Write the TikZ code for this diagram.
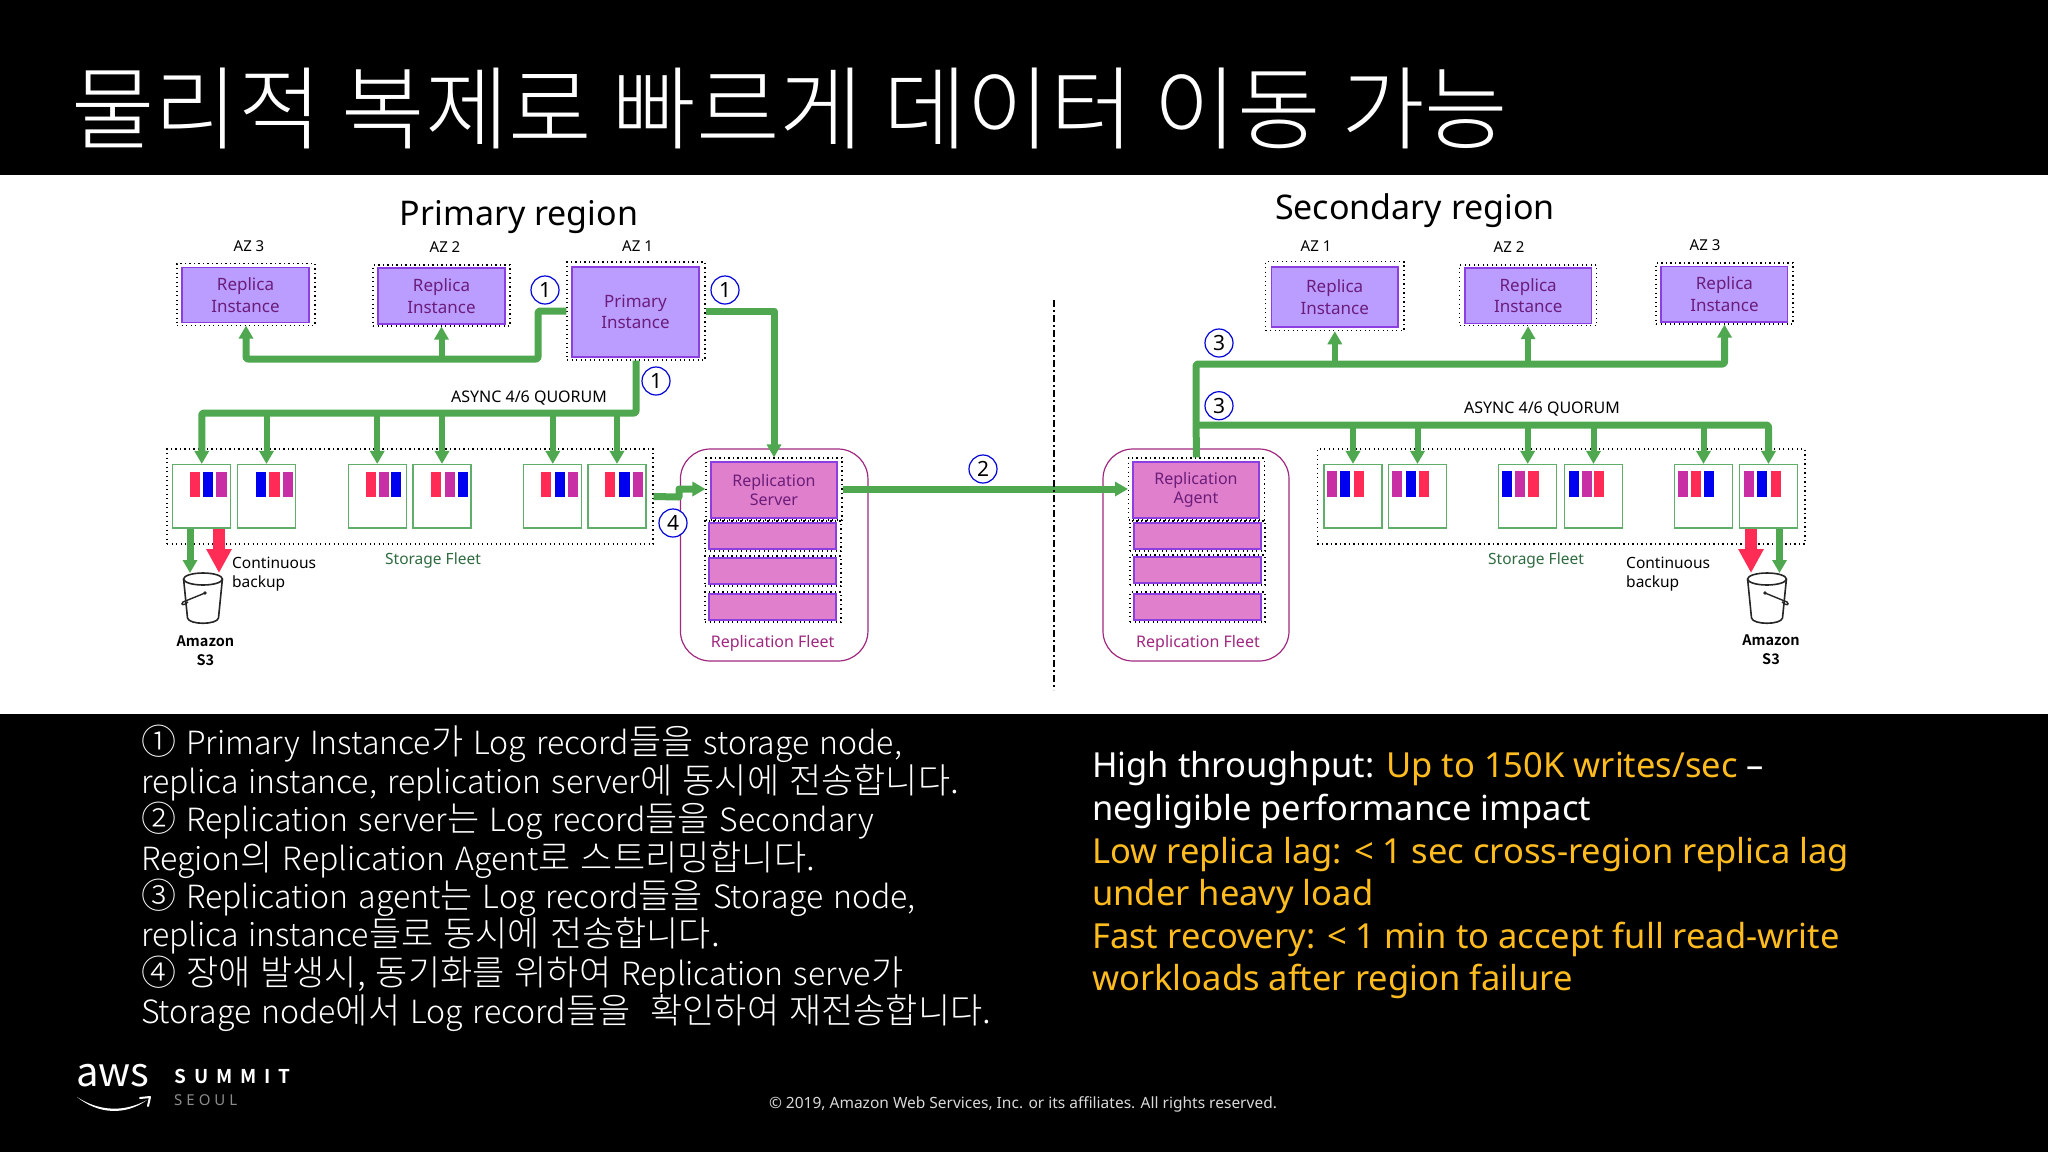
\documentclass[tikz,border=0pt]{standalone}
\usepackage{fontspec}
\usetikzlibrary{arrows.meta}
\setmainfont{Noto Sans}
\newfontfamily\kr{Noto Sans CJK KR}
\newfontfamily\krl{Noto Sans CJK KR Light}
\newfontfamily\krb{Noto Sans CJK KR Bold}
\definecolor{flowgreen}{HTML}{4FA84F}
\definecolor{hotred}{HTML}{FF2D55}
\definecolor{barB}{HTML}{0000F0}
\definecolor{barR}{HTML}{FF2A55}
\definecolor{barM}{HTML}{C92FA5}
\definecolor{lilac}{HTML}{BB9CFF}
\definecolor{edgepurple}{HTML}{8C3FE0}
\definecolor{pinkfill}{HTML}{E07FCB}
\definecolor{inktext}{HTML}{6B1D7A}
\definecolor{fleetline}{HTML}{A0287F}
\definecolor{boxgreen}{HTML}{5FAE6A}
\definecolor{darkgreen}{HTML}{2F6B40}
\definecolor{gold}{HTML}{FFBC1F}
\newcommand{\fs}[1]{\fontsize{#1}{#1}\selectfont}
\newcommand{\fsb}[2]{\fontsize{#1}{#2}\selectfont}
\newcommand{\K}[1]{{\fontsize{35}{38.45}\selectfont #1}}
\newcommand{\widesp}{\spaceskip=10pt\relax}
\tikzset{
  dotframe/.style={draw=black,line width=1.1pt,dash pattern=on 1.2pt off 3.3pt,inner sep=0pt,fill=none},
  instbox/.style={draw=edgepurple,line width=1.2pt,fill=lilac,inner sep=0pt,align=center,text=inktext,font=\fsb{17}{21.5}},
  repbox/.style={draw=edgepurple,line width=1.2pt,fill=pinkfill,inner sep=0pt,align=center,text=inktext,font=\fsb{16}{19.5}},
  storebox/.style={draw=boxgreen,line width=1.2pt,fill=white,inner sep=0pt,minimum width=58pt,minimum height=63.5pt},
  fleet/.style={draw=fleetline,line width=1.2pt,rounded corners=30pt,inner sep=0pt},
  flow/.style={draw=flowgreen,line width=7pt,line join=round,-{Triangle[width=14pt,length=13pt]}},
  flowthin/.style={draw=flowgreen,line width=6pt,line join=round,-{Triangle[width=14pt,length=13pt]}},
  redflow/.style={draw=hotred,line width=12pt,-{Triangle[width=24pt,length=24pt]}},
  num/.style={circle,draw=blue!85!black,line width=1.2pt,fill=white,minimum size=28pt,inner sep=0pt,font=\fs{21},text=black},
  lab/.style={inner sep=0pt,font=\fs{15.5}},
  azlab/.style={inner sep=0pt,font=\fs{15}},
  boldlab/.style={inner sep=0pt,font=\krb\fs{14.5}},
}
\begin{document}
\begin{tikzpicture}[x=1pt,y=-1pt]
\useasboundingbox (0,0) rectangle (2048,1152);
\fill[black] (0,0) rectangle (2048,1152);
\fill[white] (0,175) rectangle (2048,714);

% header
\node[anchor=west,inner sep=0pt,text=white] (title) at (71,108) {\krl\fs{90.8}물리적 복제로 빠르게 데이터 이동 가능};

% region titles
\node[inner sep=0pt,font=\fs{34}] (prim) at (519,217) {Primary region};
\node[inner sep=0pt,font=\fs{34}] (sec) at (1415,211) {Secondary region};
\node[azlab] (az3a) at (249,246) {AZ 3};
\node[azlab] (az2a) at (445,247) {AZ 2};
\node[azlab] (az1a) at (637.5,246.5) {AZ 1};
\node[azlab] (az1b) at (1316,246) {AZ 1};
\node[azlab] (az2b) at (1509,247) {AZ 2};
\node[azlab] (az3b) at (1705,245) {AZ 3};

% primary region instances
\node[dotframe,minimum width=138pt,minimum height=61.5pt] (r3d) at (246,294.3) {};
\node[instbox,minimum width=127pt,minimum height=55.4pt] (r3) at (245.5,295) {Replica\\Instance};
\node[dotframe,minimum width=137pt,minimum height=61pt] (r2d) at (441.5,295.5) {};
\node[instbox,minimum width=127pt,minimum height=56pt] (r2) at (441.5,296) {Replica\\Instance};
\node[dotframe,minimum width=138pt,minimum height=98pt] (pd) at (636,311) {};
\node[instbox,minimum width=127pt,minimum height=90pt] (pr) at (635.5,312) {Primary\\Instance};

% secondary region instances
\node[dotframe,minimum width=138.3pt,minimum height=69pt] (q1d) at (1334.8,296.2) {};
\node[instbox,minimum width=126.6pt,minimum height=60pt] (q1) at (1334.7,297) {Replica\\Instance};
\node[dotframe,minimum width=137.1pt,minimum height=60.7pt] (q2d) at (1528.1,295.3) {};
\node[instbox,minimum width=126.4pt,minimum height=55.7pt] (q2) at (1528.2,295.8) {Replica\\Instance};
\node[dotframe,minimum width=137pt,minimum height=61pt] (q3d) at (1724.5,293.5) {};
\node[instbox,minimum width=126.8pt,minimum height=55.3pt] (q3) at (1724.4,294.3) {Replica\\Instance};

% primary storage fleet
\node[dotframe,minimum width=486pt,minimum height=95pt] (fa) at (410,496.5) {};
\node[storebox] (s1) at (201.75,496.3) {};
\node[storebox] (s2) at (266.5,496.3) {};
\node[storebox] (s3) at (377.2,496.3) {};
\node[storebox] (s4) at (442,496.3) {};
\node[storebox] (s5) at (552.8,496.3) {};
\node[storebox] (s6) at (617,496.3) {};
\foreach \x/\c in {189.5/barR,203/barB,216.4/barM,256/barB,269.4/barR,283/barM,
  366/barR,379/barM,391/barB,431/barR,445/barM,458/barB,
  541/barR,554.5/barB,568/barM,605/barR,619.4/barB,633/barM}
  \fill[\c] (\x,471.7) rectangle ++(10.2,25.6);
\node[lab,text=darkgreen] (sfa) at (433,560.5) {Storage Fleet};
\node[lab,anchor=west] (cb1) at (232,563) {Continuous};
\node[lab,anchor=west] (cb2) at (232,583) {backup};

% secondary storage fleet
\node[dotframe,minimum width=487.5pt,minimum height=95pt] (fb) at (1561.2,496.5) {};
\node[storebox] (t1) at (1353,496.3) {};
\node[storebox] (t2) at (1417.5,496.3) {};
\node[storebox] (t3) at (1527.7,496.3) {};
\node[storebox] (t4) at (1593.5,496.3) {};
\node[storebox] (t5) at (1703.5,496.3) {};
\node[storebox] (t6) at (1768.5,496.3) {};
\foreach \x/\c in {1327/barM,1340/barB,1354/barR,1392/barM,1406/barB,1419/barR,
  1502/barB,1515/barM,1528.4/barR,1569/barB,1582/barM,1594/barR,
  1678/barM,1691/barR,1704/barB,1743.6/barM,1757/barB,1771/barR}
  \fill[\c] (\x,471.2) rectangle ++(10.2,25.6);
\node[lab,text=darkgreen] (sfb) at (1536,560.5) {Storage Fleet};
\node[lab,anchor=west] (cb3) at (1626,563) {Continuous};
\node[lab,anchor=west] (cb4) at (1626,583) {backup};

% replication fleets
\node[fleet,minimum width=187.5pt,minimum height=212pt] (rfa) at (774.2,555) {};
\node[dotframe,minimum width=136pt,minimum height=62pt] (rsd) at (774,489) {};
\node[repbox,minimum width=126pt,minimum height=56pt] (rs) at (774,490) {Replication\\Server};
\foreach \n/\y in {a/536,b/571,c/607}{
  \node[dotframe,minimum width=136pt,minimum height=30pt] (ra\n d) at (773,\y) {};
  \node[repbox,minimum width=127pt,minimum height=26pt] (ra\n) at (772.5,\y) {};
}
\node[inner sep=0pt,font=\fs{16},text=fleetline] (rfla) at (772.6,643) {Replication Fleet};

\node[fleet,minimum width=186pt,minimum height=212pt] (rfb) at (1196,555) {};
\node[dotframe,minimum width=135.5pt,minimum height=62pt] (agd) at (1196.3,489) {};
\node[repbox,minimum width=126pt,minimum height=56pt] (ag) at (1196,490) {Replication\\Agent};
\foreach \n/\y in {a/536,b/570,c/607}{
  \node[dotframe,minimum width=135pt,minimum height=30pt] (rb\n d) at (1197.5,\y) {};
  \node[repbox,minimum width=127pt,minimum height=26pt] (rb\n) at (1197.5,\y) {};
}
\node[inner sep=0pt,font=\fs{16},text=fleetline] (rflb) at (1198,643) {Replication Fleet};

% connectors, primary
\coordinate (la) at (538,311);
\coordinate (lb) at (538,359);
\draw[flow,rounded corners=2pt] (pd.west) -- (la) -- (lb) -- (r3d.south |- lb) -- (r3d.south);
\draw[flowthin] (r2d.south |- lb) -- (r2d.south);
\coordinate (qa) at (636,413);
\draw[flow,rounded corners=2pt] (pd.south) -- (qa) -- (qa -| s1.north) -- (s1.north);
\foreach \b in {s2,s3,s4,s5,s6} \draw[flowthin] (qa -| \b.north) -- (\b.north);
\draw[flow] (pd.east) -- (pd.east -| rsd.north) -- (rsd.north);
\coordinate (fo) at (679,497);
\draw[flow] (fa.east) -- (fo) -- (fo |- rsd.west) -- (rsd.west);
\draw[flow,shorten >=0pt] (rsd.east) -- (agd.west);

% connectors, secondary
\coordinate (ua) at (1196,364);
\coordinate (ub) at (1196,425);
\draw[flow,rounded corners=2pt] (agd.north) -- (ua) -- (ua -| q3d.south) -- (q3d.south);
\draw[flowthin] (ua -| q1d.south) -- (q1d.south);
\draw[flowthin] (ua -| q2d.south) -- (q2d.south);
\draw[flow,rounded corners=2pt] (ub) -- (ub -| t6.north) -- (t6.north);
\foreach \b in {t1,t2,t3,t4,t5} \draw[flowthin] (ub -| \b.north) -- (\b.north);

% s3 buckets
\foreach \c/\s/\n in {203/1/a,1767/-1/b}{
\begin{scope}[shift={(\c,0)},xscale=\s]
  \draw[black!85,line width=1.6pt,line join=round] (-19.4,579) -- (-15.5,618) .. controls (-14,625) and (14,625) .. (15.5,618) -- (19.4,579);
  \draw[black!85,line width=1.6pt,fill=white] (0,579) ellipse [x radius=19.4,y radius=6];
  \draw[black!85,line width=1.4pt] (2,593) -- (-20,602) .. controls (-23,605) and (-19,606) .. (-15,602);
  \fill[black!85] (2,593) circle (1.8);
\end{scope}
}
\node[boldlab] (s3a) at (205.4,641.5) {Amazon};
\node[boldlab] (s3b) at (205.4,660) {S3};
\node[boldlab] (s3c) at (1771,640.5) {Amazon};
\node[boldlab] (s3d) at (1771,659) {S3};
\coordinate (ba) at (190,573); \coordinate (bb) at (219,573);
\coordinate (bc) at (1751,573); \coordinate (bd) at (1779.5,573);
\draw[flow] (ba |- s1.south) -- (ba);
\draw[redflow] (bb |- s1.south) -- (bb);
\draw[redflow] (bc |- t6.south) -- (bc);
\draw[flow] (bd |- t6.south) -- (bd);

% labels
\node[inner sep=0pt,font=\fs{16}] (qla) at (529,398) {ASYNC 4/6 QUORUM};
\node[inner sep=0pt,font=\fs{16}] (qlb) at (1542,409.5) {ASYNC 4/6 QUORUM};
\node[num] (n1a) at (545,290) {1};
\node[num] (n1b) at (725,290) {1};
\node[num] (n1c) at (656,381) {1};
\node[num] (n2) at (983,469) {2};
\node[num] (n4) at (673,523) {4};
\node[num] (n3a) at (1219,343) {3};
\node[num] (n3b) at (1219,405.7) {3};
\coordinate (cla) at (1054,300); \coordinate (clb) at (1054,690);
\draw[black,line width=1.2pt,dash pattern=on 7pt off 3pt on 2pt off 3pt] (cla) -- (clb);

% bottom text
\node[anchor=north west,inner sep=0pt,align=left,text=white,font=\krl\fsb{32}{38.45}\widesp] (left) at (141,725) {
\K{①} Primary Instance\K{가} Log record\K{들을} storage node,\\
replica instance, replication server\K{에 동시에 전송합니다.}\\
\K{②} Replication server\K{는} Log record\K{들을} Secondary\\
Region\K{의} Replication Agent\K{로 스트리밍합니다.}\\
\K{③} Replication agent\K{는} Log record\K{들을} Storage node,\\
replica instance\K{들로 동시에 전송합니다.}\\
\K{④ 장애 발생시, 동기화를 위하여} Replication serve\K{가}\\
Storage node\K{에서} Log record\K{들을 \ 확인하여 재전송합니다.}};
\node[anchor=north west,inner sep=0pt,align=left,text=white,font=\fsb{34.5}{42.6}] (right) at (1092,751.5) {
High throughput: \textcolor{gold}{Up to 150K writes/sec} --\\
negligible performance impact\\
\textcolor{gold}{Low replica lag: < 1 sec cross-region replica lag}\\
\textcolor{gold}{under heavy load}\\
\textcolor{gold}{Fast recovery: < 1 min to accept full read-write}\\
\textcolor{gold}{workloads after region failure}};

% footer
\node[inner sep=0pt,text=white!85!black,font=\fs{15.5}] (copy) at (1023,1104) {© 2019, Amazon Web Services, Inc. or its affiliates. All rights reserved.};
\node[inner sep=0pt,text=white,font=\kr\fs{40}] (aws) at (113,1076) {aws};
\fill[white] (77,1097) .. controls (100,1112) and (125,1112) .. (147,1100) .. controls (125,1116) and (98,1114) .. (77,1097) -- cycle;
\draw[white,line width=2pt,line cap=round,line join=round] (140,1098) -- (150,1097) -- (148,1106);
\node[anchor=west,inner sep=0pt,text=white,font=\krb\fs{19}] (sum) at (174,1076) {S\hspace{8pt}U\hspace{8pt}M\hspace{8pt}M\hspace{8pt}I\hspace{8pt}T};
\node[anchor=west,inner sep=0pt,text=white!55!black,font=\fs{15}] (seo) at (174,1100) {S\hspace{4pt}E\hspace{4pt}O\hspace{4pt}U\hspace{4pt}L};
\end{tikzpicture}
\end{document}
